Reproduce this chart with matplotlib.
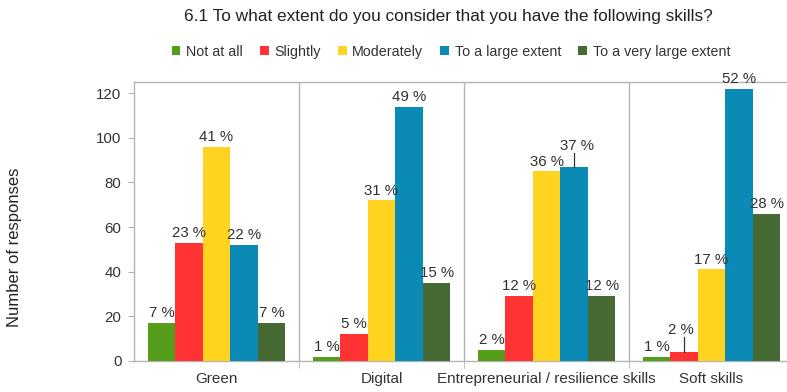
import matplotlib
matplotlib.use("Agg")
import matplotlib.pyplot as plt
from matplotlib.patches import Patch
import numpy as np

plt.rcParams['font.family'] = ['Liberation Sans', 'DejaVu Sans']

categories = ["Green", "Digital", "Entrepreneurial / resilience skills", "Soft skills"]
series_names = ["Not at all", "Slightly", "Moderately", "To a large extent", "To a very large extent"]
not_at_all = [17, 2, 5, 2]
slightly = [53, 12, 29, 4]
moderately = [96, 72, 85, 41]
large = [52, 114, 87, 122]
very_large = [17, 35, 29, 66]
pct_not_at_all = ["7 %", "1 %", "2 %", "1 %"]
pct_slightly = ["23 %", "5 %", "12 %", "2 %"]
pct_moderately = ["41 %", "31 %", "36 %", "17 %"]
pct_large = ["22 %", "49 %", "37 %", "52 %"]
pct_very_large = ["7 %", "15 %", "12 %", "28 %"]
y_ticks = [0, 20, 40, 60, 80, 100, 120]

series = [not_at_all, slightly, moderately, large, very_large]
pcts = [pct_not_at_all, pct_slightly, pct_moderately, pct_large, pct_very_large]
colors = ["#579d1c", "#ff3333", "#ffd320", "#0b8ab6", "#456a33"]

W, H = 787, 392
fig = plt.figure(figsize=(W / 100, H / 100), dpi=100)
ax = fig.add_axes([134 / W, (H - 361) / H, 660 / W, (361 - 82) / H])

x = np.arange(len(categories))
bw = 0.167
txtc = "#333333"
# label offsets (points) for labels moved with a leader line: (series, category) -> (dx, dy)
moved = {(3, 2): (2, 10), (1, 3): (-2, 11)}
for i, (vals, labs, col) in enumerate(zip(series, pcts, colors)):
    xs = x + (i - 2) * bw
    ax.bar(xs, vals, width=bw, color=col, zorder=3)
    for j, (xx, v, lab) in enumerate(zip(xs, vals, labs)):
        dx, dy = moved.get((i, j), (0, 2))
        ax.annotate(lab, (xx, v), xytext=(dx, dy), textcoords="offset points",
                    ha="center", va="bottom", fontsize=10.8, color=txtc, zorder=5)
        if (i, j) in moved:
            ax.plot([xx, xx], [v, v + dy * 0.62], color=txtc, lw=0.9, zorder=5)

ax.set_xlim(-0.5, 3.5)
ax.set_ylim(0, 125)
ax.set_yticks(y_ticks)
ax.set_xticks(x)
ax.set_xticklabels(categories)
ax.set_xticks([0.5, 1.5, 2.5], minor=True)
for xv in [0.5, 1.5, 2.5]:
    ax.axvline(xv, color="#b3b3b3", lw=1, zorder=1)
ax.tick_params(axis="x", which="major", length=0, pad=8, labelsize=11, labelcolor=txtc)
ax.tick_params(axis="x", which="minor", length=5, color="#b3b3b3", direction="out")
ax.tick_params(axis="y", length=4, color="#b3b3b3", pad=5, labelsize=10.8, labelcolor=txtc)
for s in ax.spines.values():
    s.set_color("#b3b3b3")
    s.set_linewidth(1)

fig.text(15 / W, 1 - 247 / H, "Number of responses", rotation=90, ha="center", va="center",
         fontsize=12, color="#222222")
fig.text(448 / W, 1 - 17 / H, "6.1 To what extent do you consider that you have the following skills?",
         ha="center", va="center", fontsize=12.4, color="#222222")
handles = [Patch(facecolor=c, edgecolor="none") for c in colors]
fig.legend(handles, series_names, loc="center", bbox_to_anchor=(451 / W, 1 - 52 / H), ncol=5,
           frameon=False, fontsize=10.3, handlelength=0.6, handleheight=0.6, handletextpad=0.4,
           columnspacing=1.2, labelcolor=txtc)

fig.savefig("out.png", dpi=100)
